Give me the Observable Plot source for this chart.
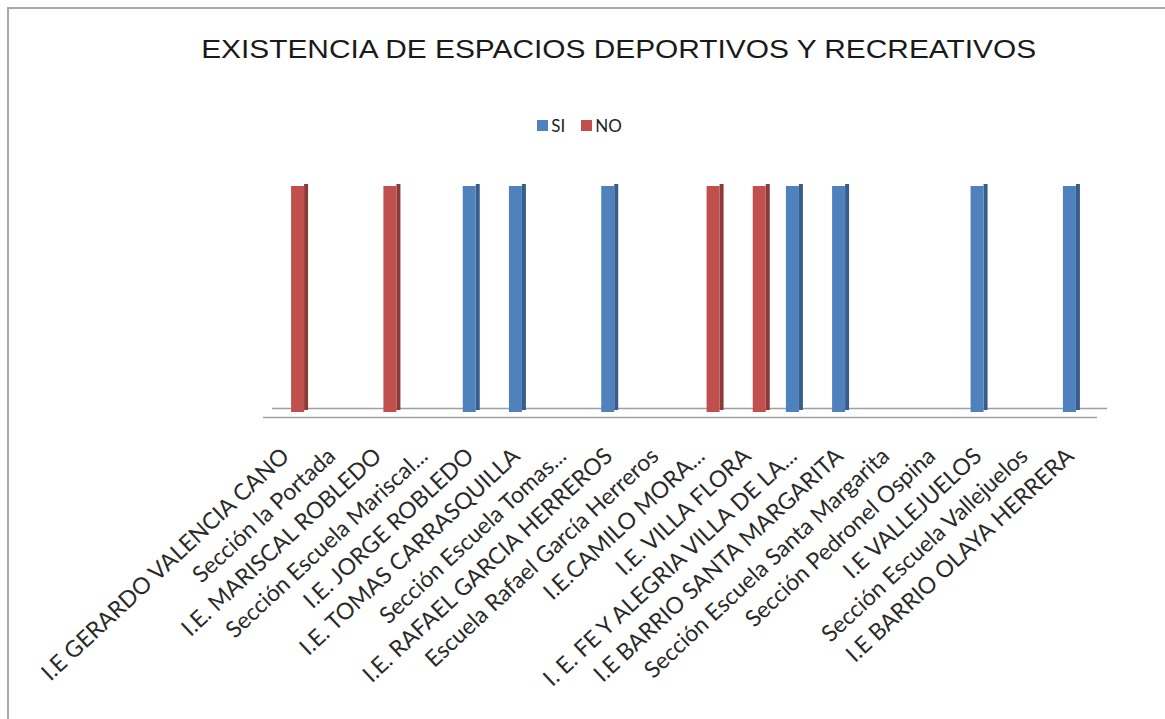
<!DOCTYPE html>
<html>
<head>
<meta charset="utf-8">
<script src="https://cdn.jsdelivr.net/npm/d3@7"></script>
<script src="https://cdn.jsdelivr.net/npm/@observablehq/plot@0.6"></script>
<style>
  html, body { margin: 0; padding: 0; background: #fff; }
  #wrap { position: relative; width: 1165px; height: 719px; overflow: hidden; background: #fff; }
  #border { position: absolute; left: 7px; top: 7px; width: 1200px; height: 800px;
            border-top: 2px solid #a8a8a8; border-left: 2px solid #a8a8a8; pointer-events: none; }
  #title { box-sizing: border-box; height: 95px; padding-top: 34px; padding-left: 73px;
           font-family: "Liberation Sans", Arial, sans-serif; font-size: 26px; line-height: 30px;
           color: #1a1a1a; text-align: center; white-space: nowrap; }
  #title span { display: inline-block; transform: scaleX(1.148); transform-origin: center; }
  #legend { position: relative; top: -6px; box-sizing: border-box; height: 65px; padding-top: 8px; padding-right: 6px;
            display: flex; justify-content: center; align-items: center;
            font-family: Lato, "Open Sans", sans-serif; font-size: 17px; line-height: 20px; color: #222; }
  .item { display: flex; align-items: center; margin: 0 8px; }
  .sw { width: 11px; height: 11px; margin-right: 3px; }
  #chart { position: relative; top: 0; }
  #chart svg { display: block; }
</style>
</head>
<body>
<div id="wrap">
  <div id="title"><span>EXISTENCIA DE ESPACIOS DEPORTIVOS Y RECREATIVOS</span></div>
  <div id="legend"></div>
  <div id="chart"></div>
  <div id="border"></div>
</div>
<script>
// ---- Data ----
const categorias = [
  "I.E GERARDO VALENCIA CANO",
  "Sección la Portada",
  "I.E. MARISCAL ROBLEDO",
  "Sección Escuela Mariscal...",
  "I.E. JORGE ROBLEDO",
  "I.E. TOMAS CARRASQUILLA",
  "Sección Escuela Tomas...",
  "I.E. RAFAEL GARCIA HERREROS",
  "Escuela Rafael García Herreros",
  "I.E.CAMILO MORA...",
  "I.E. VILLA FLORA",
  "I. E. FE Y ALEGRIA VILLA DE LA...",
  "I.E BARRIO SANTA MARGARITA",
  "Sección Escuela Santa Margarita",
  "Sección Pedronel Ospina",
  "I.E VALLEJUELOS",
  "Sección Escuela Vallejuelos",
  "I.E BARRIO OLAYA HERRERA"
];
const series = ["SI", "NO"];
const valoresSI = [0, 0, 0, 0, 1, 1, 0, 1, 0, 0, 0, 1, 1, 0, 0, 1, 0, 1];
const valoresNO = [1, 0, 1, 0, 0, 0, 0, 0, 0, 1, 1, 0, 0, 0, 0, 0, 0, 0];
const colores = { SI: "#4F81BD", NO: "#C0504D" };
const coloresLado = { SI: "#385D8A", NO: "#8C3A38" };

// ---- Legend ----
const legend = document.getElementById("legend");
for (const s of series) {
  const it = document.createElement("div");
  it.className = "item";
  const sw = document.createElement("span");
  sw.className = "sw";
  sw.style.background = colores[s];
  const tx = document.createElement("span");
  tx.textContent = s;
  it.appendChild(sw); it.appendChild(tx);
  legend.appendChild(it);
}

// ---- Table ----
const datosSI = categorias.map((c, i) => ({ categoria: c, serie: "SI", valor: valoresSI[i] })).filter(d => d.valor > 0);
const datosNO = categorias.map((c, i) => ({ categoria: c, serie: "NO", valor: valoresNO[i] })).filter(d => d.valor > 0);

const W = 1165, H = 559;
const mL = 268, mR = 66;
const step = (W - mL - mR) / categorias.length;
const half = step / 2;
const face = 13, side = 4;

const chart = Plot.plot({
  width: W,
  height: H,
  marginTop: 26,
  marginBottom: 307,
  marginLeft: mL,
  marginRight: mR,
  x: { domain: categorias, padding: 0, round: false },
  y: { domain: [0, 1], axis: null },
  style: { background: "#fff" },
  marks: [
    // floor (back edge, front edge)
    Plot.ruleY([0], { dy: -4, insetLeft: 4, insetRight: -8, stroke: "#a0a0a0", strokeWidth: 1.5 }),
    Plot.ruleY([0], { dy: 5, insetLeft: -5, insetRight: 2, stroke: "#a0a0a0", strokeWidth: 1.5 }),
    // SI bars: side face then front face
    Plot.barY(datosSI, { x: "categoria", y: "valor", fill: coloresLado.SI, dy: -2,
      insetLeft: half, insetRight: half - side }),
    Plot.barY(datosSI, { x: "categoria", y: "valor", fill: colores.SI,
      insetLeft: half - face, insetRight: half }),
    // NO bars
    Plot.barY(datosNO, { x: "categoria", y: "valor", fill: coloresLado.NO, dy: -2,
      insetLeft: half + face, insetRight: half - face - side }),
    Plot.barY(datosNO, { x: "categoria", y: "valor", fill: colores.NO,
      insetLeft: half, insetRight: half - face }),
    Plot.axisX({ tickRotate: -43, tickSize: 0, tickPadding: 40, dx: -6, fontSize: 23,
      fontFamily: "Lato, 'Open Sans', sans-serif", fill: "#2a2a2a", label: null })
  ]
});
document.getElementById("chart").appendChild(chart);
</script>
</body>
</html>
